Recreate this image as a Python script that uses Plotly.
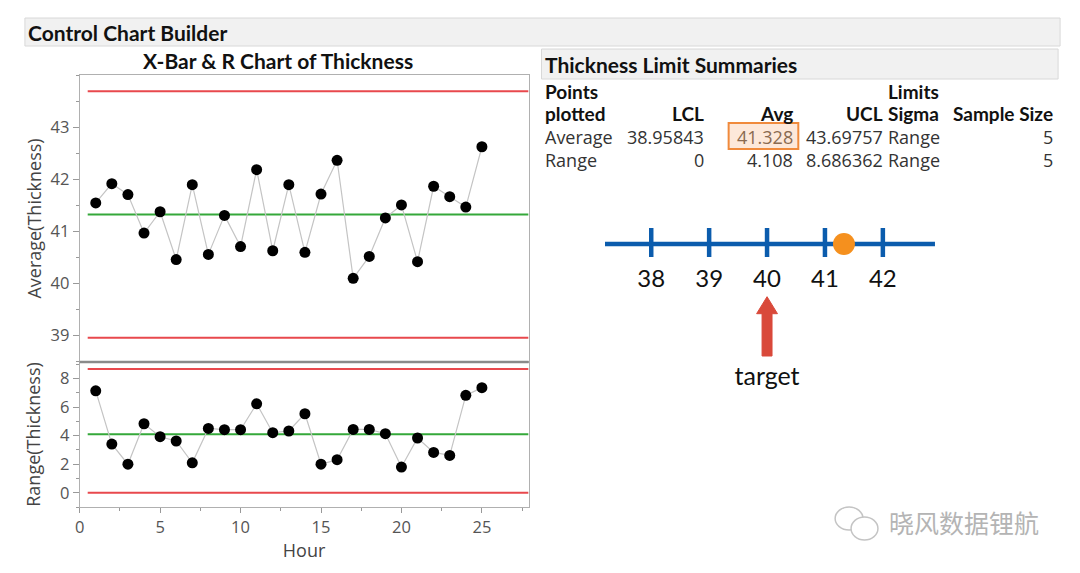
import plotly.graph_objects as go

# ---------------- data ----------------
hours = list(range(1, 26))
avg_thickness = [41.55, 41.92, 41.71, 40.97, 41.38, 40.46, 41.90, 40.56, 41.31, 40.71,
                 42.19, 40.63, 41.90, 40.60, 41.72, 42.37, 40.10, 40.52, 41.26, 41.51,
                 40.42, 41.87, 41.67, 41.47, 42.63]
range_thickness = [7.15, 3.41, 2.00, 4.84, 3.93, 3.63, 2.10, 4.51, 4.42, 4.42,
                   6.24, 4.21, 4.33, 5.54, 2.00, 2.32, 4.44, 4.44, 4.14, 1.80,
                   3.84, 2.83, 2.62, 6.83, 7.37]
avg_limits = {"LCL": 38.95843, "Avg": 41.328, "UCL": 43.69757}
rng_limits = {"LCL": 0, "Avg": 4.108, "UCL": 8.686362}
sample_size = 5
table_header = ["LCL", "Avg", "UCL"]
table_rows = [
    ["Average", "38.95843", "41.328", "43.69757", "Range", "5"],
    ["Range", "0", "4.108", "8.686362", "Range", "5"],
]
numline_ticks = [38, 39, 40, 41, 42]
target_value = 40

W, H = 1080, 573
def px(x):
    return x / W
def py(y):
    return 1 - y / H

RED = "#e8484d"
GREEN = "#35a83a"
FONT = "Open Sans"
TXT = "#222222"

fig = go.Figure()

x_max = 27.9
# ---- X-bar chart ----
fig.add_trace(go.Scatter(x=[0.5, x_max], y=[avg_limits["UCL"]] * 2, mode="lines",
                         line=dict(color=RED, width=2), xaxis="x", yaxis="y", hoverinfo="skip"))
fig.add_trace(go.Scatter(x=[0.5, x_max], y=[avg_limits["LCL"]] * 2, mode="lines",
                         line=dict(color=RED, width=2), xaxis="x", yaxis="y", hoverinfo="skip"))
fig.add_trace(go.Scatter(x=[0.5, x_max], y=[avg_limits["Avg"]] * 2, mode="lines",
                         line=dict(color=GREEN, width=2), xaxis="x", yaxis="y", hoverinfo="skip"))
fig.add_trace(go.Scatter(x=hours, y=avg_thickness, mode="lines+markers",
                         line=dict(color="#c4c4c4", width=1.2),
                         marker=dict(color="black", size=11), xaxis="x", yaxis="y"))

# ---- R chart ----
fig.add_trace(go.Scatter(x=[0.5, x_max], y=[rng_limits["UCL"]] * 2, mode="lines",
                         line=dict(color=RED, width=2), xaxis="x2", yaxis="y2", hoverinfo="skip"))
fig.add_trace(go.Scatter(x=[0.5, x_max], y=[rng_limits["LCL"]] * 2, mode="lines",
                         line=dict(color=RED, width=2), xaxis="x2", yaxis="y2", hoverinfo="skip"))
fig.add_trace(go.Scatter(x=[0.5, x_max], y=[rng_limits["Avg"]] * 2, mode="lines",
                         line=dict(color=GREEN, width=2), xaxis="x2", yaxis="y2", hoverinfo="skip"))
fig.add_trace(go.Scatter(x=hours, y=range_thickness, mode="lines+markers",
                         line=dict(color="#c4c4c4", width=1.2),
                         marker=dict(color="black", size=11), xaxis="x2", yaxis="y2"))

# ---- number line ----
BLUE = "#0b5cad"
nl_lo, nl_hi = 37.2, 42.9
fig.add_trace(go.Scatter(x=[nl_lo, nl_hi], y=[0, 0], mode="lines",
                         line=dict(color=BLUE, width=4.5), xaxis="x3", yaxis="y3", hoverinfo="skip"))
tx, ty = [], []
for t in numline_ticks:
    tx += [t, t, None]
    ty += [1.6, -1.3, None]
fig.add_trace(go.Scatter(x=tx, y=ty, mode="lines", line=dict(color=BLUE, width=4.5),
                         xaxis="x3", yaxis="y3", hoverinfo="skip"))
fig.add_trace(go.Scatter(x=numline_ticks, y=[-3.7] * len(numline_ticks), mode="text",
                         text=[str(t) for t in numline_ticks],
                         textfont=dict(family="Lato", size=24, color="#111111"),
                         xaxis="x3", yaxis="y3", hoverinfo="skip"))
fig.add_trace(go.Scatter(x=[avg_limits["Avg"]], y=[0], mode="markers",
                         marker=dict(color="#f5901e", size=22), xaxis="x3", yaxis="y3"))
fig.add_trace(go.Scatter(x=[target_value], y=[-13.5], mode="text", text=["target"],
                         textfont=dict(family="Lato", size=25, color="#111111"),
                         xaxis="x3", yaxis="y3", hoverinfo="skip"))

axis_common = dict(showgrid=False, zeroline=False, showline=True, linecolor="#b0b0b0",
                   linewidth=1, mirror=True, tickfont=dict(family=FONT, size=16.5, color="#555555"),
                   tickcolor="#999999")

plot_l, plot_r = 75, 526
top_t, mid, bot_b = 75, 362, 507

fig.update_layout(
    width=W, height=H, margin=dict(l=0, r=0, t=0, b=0),
    paper_bgcolor="white", plot_bgcolor="white", showlegend=False,
    xaxis=dict(domain=[px(plot_l), px(plot_r)], range=[0, x_max], anchor="y",
               showticklabels=False, ticks="", **axis_common),
    yaxis=dict(domain=[py(mid), py(top_t)], range=[38.49, 44.01], anchor="x",
               tickvals=[39, 40, 41, 42, 43], ticks="outside", ticklen=6,
               minor=dict(dtick=0.5, tick0=0, ticks="outside", ticklen=3, tickcolor="#999999"),
               title=dict(text="Average(Thickness)", font=dict(family=FONT, size=18, color="#444444"),
                          standoff=4),
               **axis_common),
    xaxis2=dict(domain=[px(plot_l), px(plot_r)], range=[0, x_max], anchor="y2",
                tickvals=[0, 5, 10, 15, 20, 25], ticks="outside", ticklen=5,
                minor=dict(dtick=2.5, tick0=0, ticks="outside", ticklen=3, tickcolor="#999999"),
                title=dict(text="Hour", font=dict(family=FONT, size=18, color="#444444"), standoff=2),
                **axis_common),
    yaxis2=dict(domain=[py(bot_b), py(mid)], range=[-1.0, 9.17], anchor="x2",
                tickvals=[0, 2, 4, 6, 8], ticks="outside", ticklen=6,
                minor=dict(dtick=1, tick0=0, ticks="outside", ticklen=3, tickcolor="#999999"),
                title=dict(text="Range(Thickness)", font=dict(family=FONT, size=18, color="#444444"),
                           standoff=14),
                **axis_common),
    xaxis3=dict(domain=[px(602.7), px(934.3)], range=[nl_lo, nl_hi], anchor="y3", visible=False),
    yaxis3=dict(domain=[py(400), py(200)], range=[-15.6, 4.4], anchor="x3", visible=False),
)

shapes = []
# header bars
shapes.append(dict(type="rect", xref="paper", yref="paper", x0=px(20), x1=px(1060), y0=py(46), y1=py(18),
                   fillcolor="#f1f1f1", line=dict(color="#d8d8d8", width=1), layer="below"))
shapes.append(dict(type="rect", xref="paper", yref="paper", x0=px(539), x1=px(1058), y0=py(79), y1=py(49),
                   fillcolor="#f1f1f1", line=dict(color="#d8d8d8", width=1), layer="below"))
# divider between the two charts
shapes.append(dict(type="line", xref="paper", yref="paper", x0=px(plot_l), x1=px(plot_r), y0=py(mid), y1=py(mid),
                   line=dict(color="#8a8a8a", width=2.5)))
# highlighted Avg cell
shapes.append(dict(type="rect", xref="paper", yref="paper", x0=px(727), x1=px(797), y0=py(149), y1=py(123),
                   fillcolor="#fde8da", line=dict(color="#f08a3c", width=2), layer="below"))
# red arrow pointing at target
hw, hh, hl = 0.086, 0.18, 1.7
tip = -5.27
base = -11.2
path = (f"M {target_value-hw},{base} L {target_value+hw},{base} L {target_value+hw},{tip-hl} "
        f"L {target_value+hh},{tip-hl} L {target_value},{tip} L {target_value-hh},{tip-hl} "
        f"L {target_value-hw},{tip-hl} Z")
shapes.append(dict(type="path", xref="x3", yref="y3", path=path, fillcolor="#d9493a",
                   line=dict(color="#d9493a", width=1)))
# watermark icon (two speech bubbles)
shapes.append(dict(type="circle", xref="paper", yref="paper", x0=px(834), x1=px(862), y0=py(530), y1=py(507),
                   line=dict(color="#c4c4c4", width=1.5), fillcolor="white"))
shapes.append(dict(type="circle", xref="paper", yref="paper", x0=px(850), x1=px(877), y0=py(540), y1=py(517),
                   line=dict(color="#c4c4c4", width=1.5), fillcolor="white"))
fig.update_layout(shapes=shapes)

ann = []
def text(x, y, s, size=18, bold=False, anchor="left", color=TXT, family=FONT):
    ann.append(dict(xref="paper", yref="paper", x=px(x), y=py(y), text=f"<b>{s}</b>" if bold else s,
                    showarrow=False, xanchor=anchor, yanchor="middle",
                    font=dict(family=family, size=size, color=color)))

text(21, 32, "Control Chart Builder", size=21, bold=True, color="#111111", family="Lato")
text(274, 60, "X-Bar &amp; R Chart of Thickness", size=21, bold=True, anchor="center", color="#111111", family="Lato")
text(541, 64, "Thickness Limit Summaries", size=21, bold=True, color="#111111", family="Lato")

hdr_y1, hdr_y2 = 91, 113
row_ys = [137, 160]
col_right = [704, 794, 884]
text(541, hdr_y1, "Points", size=19, bold=True, color="#111111", family="Lato")
text(541, hdr_y2, "plotted", size=19, bold=True, color="#111111", family="Lato")
for h, xr in zip(table_header, col_right):
    text(xr, hdr_y2, h, size=19, bold=True, anchor="right", color="#111111", family="Lato")
text(885, hdr_y1, "Limits", size=19, bold=True, color="#111111", family="Lato")
text(885, hdr_y2, "Sigma", size=19, bold=True, color="#111111", family="Lato")
text(1055, hdr_y2, "Sample Size", size=19, bold=True, anchor="right", color="#111111", family="Lato")
for row, yy in zip(table_rows, row_ys):
    text(541, yy, row[0], size=18, color="#333333")
    for v, xr in zip(row[1:4], col_right):
        c = "#8a6a50" if v == "41.328" else "#333333"
        text(xr, yy, v, size=18, anchor="right", color=c)
    text(885, yy, row[4], size=18, color="#333333")
    text(1055, yy, row[5], size=18, anchor="right", color="#333333")

# watermark text
text(963, 522, "晓风数据锂航", size=25, anchor="center", color="#b4b4b4", family="Noto Sans CJK SC")
fig.update_layout(annotations=ann)

fig.write_html("out.html", config={"displayModeBar": False},
               post_script="document.body.style.margin='0px';document.body.style.padding='0px';")
